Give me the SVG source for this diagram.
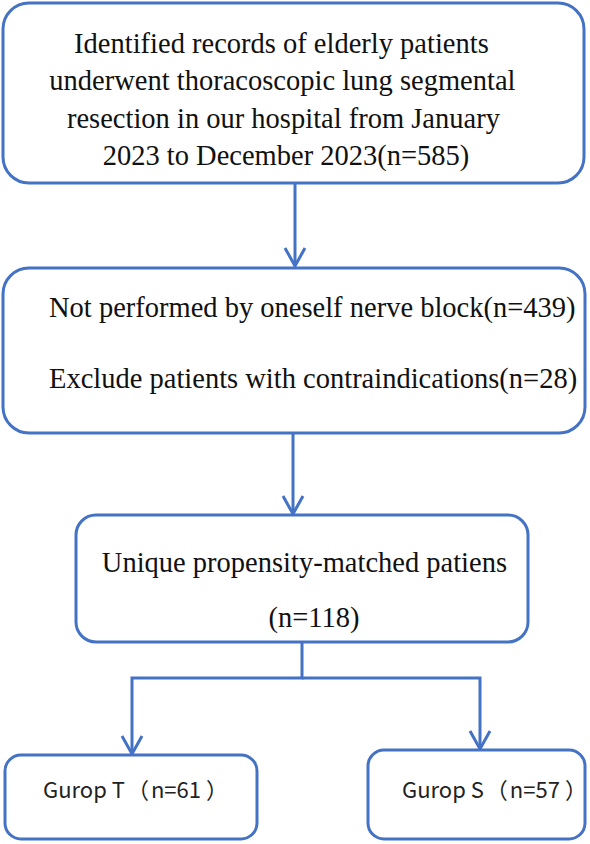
<svg xmlns="http://www.w3.org/2000/svg" width="590" height="844" viewBox="0 0 590 844">
  <defs>
    <style>
      .box { fill: #ffffff; stroke: #4472C4; stroke-width: 3; }
      .conn { fill: none; stroke: #4472C4; stroke-width: 3; }
      .serif { font-family: "Liberation Serif", "Times New Roman", serif; font-size: 28.5px; fill: #111111; }
      .sans { font-family: "Noto Sans CJK SC", "Liberation Sans", sans-serif; font-size: 22px; fill: #222222; }
    </style>
  </defs>
  <rect width="590" height="844" fill="#ffffff"/>

  <g id="connectors">
    <path class="conn" d="M295,183 L295,266"/>
    <path class="conn" d="M285,248 L295,266 L305,248"/>
    <path class="conn" d="M293,433 L293,514"/>
    <path class="conn" d="M283,496 L293,514 L303,496"/>
    <path class="conn" d="M302,642 L302,678 L132,678 L132,754"/>
    <path class="conn" d="M122,736 L132,754 L142,736"/>
    <path class="conn" d="M302,678 L480,678 L480,749"/>
    <path class="conn" d="M470,731 L480,749 L490,731"/>
  </g>

  <g id="node-identified">
    <rect class="box" x="3" y="3" width="581" height="180" rx="26" ry="26"/>
    <text class="serif" text-anchor="middle">
      <tspan x="285" y="53">Identified records of elderly patients</tspan>
      <tspan x="286" y="90">underwent thoracoscopic lung segmental</tspan>
      <tspan x="287" y="128">resection in our hospital from January</tspan>
      <tspan x="286" y="165">2023 to December 2023(n=585)</tspan>
    </text>
  </g>

  <g id="node-excluded">
    <rect class="box" x="3" y="268" width="582" height="165" rx="26" ry="26"/>
    <text class="serif">
      <tspan x="49" y="317">Not performed by oneself nerve block(n=439)</tspan>
      <tspan x="49" y="388">Exclude patients with contraindications(n=28)</tspan>
    </text>
  </g>

  <g id="node-matched">
    <rect class="box" x="76" y="515" width="452" height="127" rx="20" ry="20"/>
    <text class="serif" text-anchor="middle">
      <tspan x="308" y="572">Unique propensity-matched patiens</tspan>
      <tspan x="314" y="627">(n=118)</tspan>
    </text>
  </g>

  <g id="node-group-t">
    <rect class="box" x="5" y="755" width="252" height="84" rx="16" ry="16"/>
    <text class="sans" x="43" y="798">Gurop T<tspan dx="2">（</tspan><tspan dx="2">n=61</tspan><tspan dx="5">）</tspan></text>
  </g>

  <g id="node-group-s">
    <rect class="box" x="368" y="750" width="217" height="89" rx="16" ry="16"/>
    <text class="sans" x="402" y="798">Gurop S<tspan dx="2">（</tspan><tspan dx="2">n=57</tspan><tspan dx="5">）</tspan></text>
  </g>
</svg>
